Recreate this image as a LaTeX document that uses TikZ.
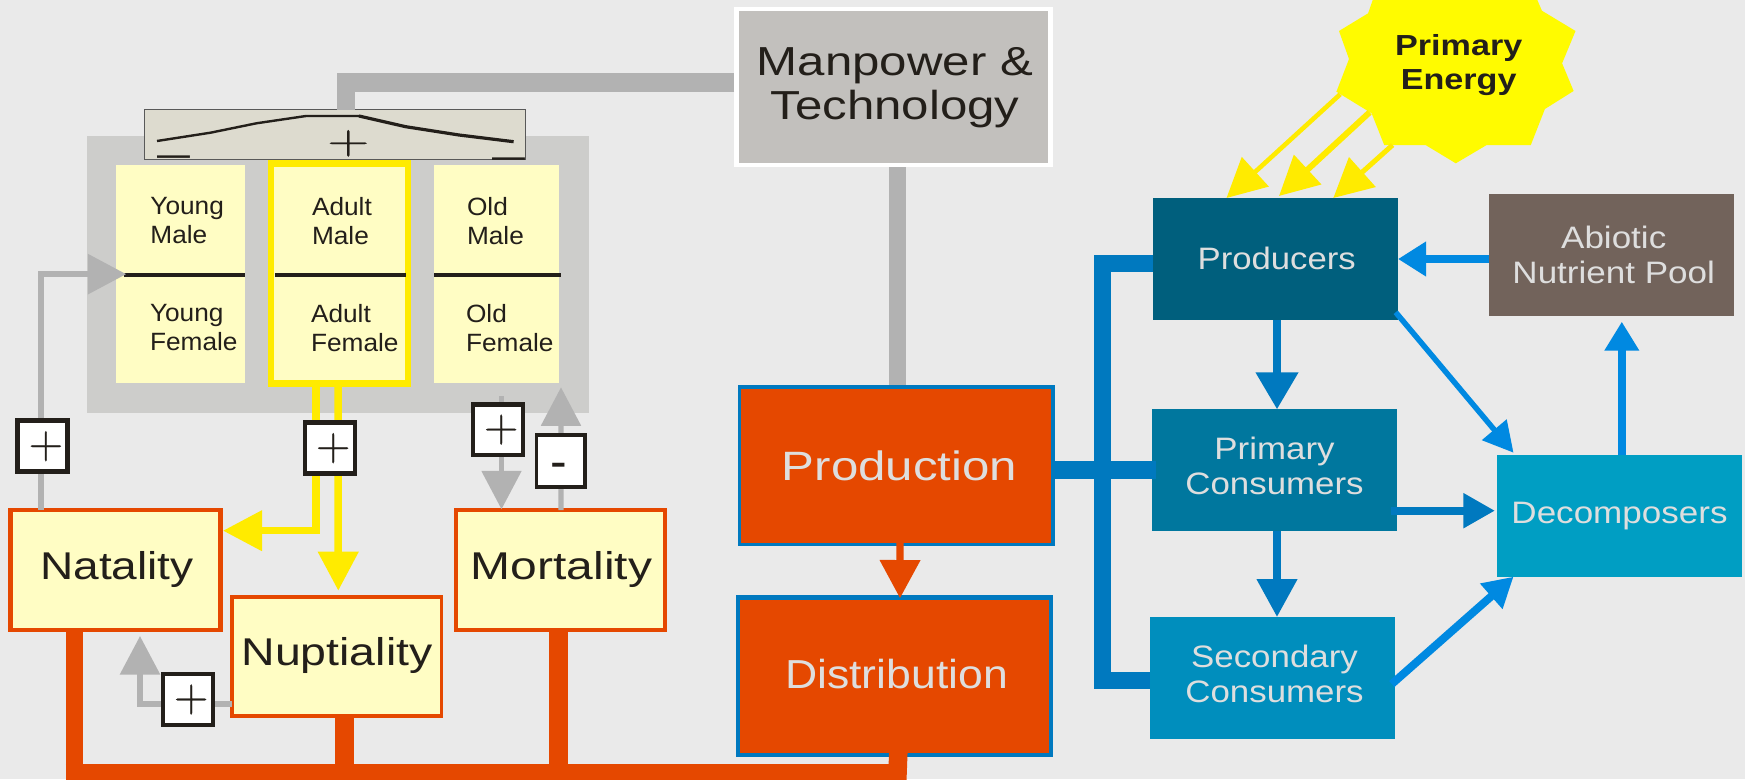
\documentclass[tikz,border=0pt]{standalone}
\usepackage{fontspec}
\usepackage{graphicx}
\usetikzlibrary{arrows.meta}
\newfontfamily\arial{Liberation Sans}
\newfontfamily\lmbold{Latin Modern Roman}[FakeBold=0.5]
\definecolor{bgc}{HTML}{EAEAEA}
\definecolor{ink}{HTML}{231F1A}
\definecolor{pale}{HTML}{DEDEDE}
\definecolor{cellc}{HTML}{FFFDC4}
\definecolor{panelc}{HTML}{CDCDCB}
\definecolor{legendc}{HTML}{DDDBCF}
\definecolor{greyc}{HTML}{B2B2B2}
\definecolor{manc}{HTML}{C2C0BD}
\definecolor{orangec}{HTML}{E54800}
\definecolor{yellowc}{HTML}{FFEB00}
\definecolor{sunc}{HTML}{FFFB00}
\definecolor{bluea}{HTML}{0079BF}
\definecolor{blueb}{HTML}{0089E1}
\newcommand{\rectnode}[7]{%
  \pgfmathsetmacro\rw{#5-#3}\pgfmathsetmacro\rh{#6-#4}%
  \node[#2,anchor=north west,inner sep=0pt,outer sep=0pt,minimum width=\rw pt,minimum height=\rh pt] (#1) at (#3,#4) {#7};}
\newcommand{\stk}[2]{\begin{tabular}[t]{@{}#1@{}}#2\end{tabular}}
\newcommand{\xs}[2]{\scalebox{#1}[1]{#2}}
\tikzset{
  cell/.style={fill=cellc},
  popbox/.style={fill=cellc,draw=orangec,line width=4.5pt},
  signbox/.style={fill=white,draw=ink,line width=4.5pt,font=\lmbold\fontsize{48}{48}\selectfont,text=ink},
  base/.style={inner sep=0pt,outer sep=0pt,anchor=base},
  basew/.style={inner sep=0pt,outer sep=0pt,anchor=base west},
  cohort/.style={basew,text=ink,font=\arial\fontsize{25}{29}\selectfont},
  poptext/.style={base,text=ink,font=\arial\fontsize{38.7}{50}\selectfont},
  bigtext/.style={base,text=pale},
  ecotext/.style={base,text=pale,font=\arial\fontsize{31}{35}\selectfont},
  greyline/.style={draw=greyc,line width=#1},
  greyarrow/.style={draw=greyc,line width=#1,-{Triangle[length=38.5pt,width=39pt]}},
  yellowarrow/.style={draw=yellowc,line width=#1,-{Triangle[length=39pt,width=39pt]}},
  orangebar/.style={draw=orangec,line width=#1},
  bluebar/.style={draw=bluea,line width=#1},
  divider/.style={draw=ink,line width=4pt},
}
\begin{document}
\begin{tikzpicture}[x=1pt,y=-1pt,line cap=butt,line join=miter]
\useasboundingbox (0,0) rectangle (1745,779);
\clip (0,0) rectangle (1745,779);
\fill[bgc] (0,0) rectangle (1745,779);
% cohort panel
\rectnode{panel}{fill=panelc}{86.5}{136}{588.6}{412.7}{}
\rectnode{young}{cell}{116}{165}{245}{383.3}{}
\rectnode{adult}{cell,draw=yellowc,line width=6.9pt}{271}{163.5}{408}{383.3}{}
\rectnode{old}{cell}{434}{165}{558.7}{383.3}{}
\draw[divider] ([shift={(8,110)}]young.north west) -- ([shift={(0,110)}]young.north east);
\draw[divider] ([shift={(3.9,111.5)}]adult.north west) -- ([shift={(-2.3,111.5)}]adult.north east);
\draw[divider] ([shift={(0,110)}]old.north west) -- ([shift={(2.3,110)}]old.north east);
\node[cohort] (ymt) at (150.4,214) {\xs{1.05}{\stk{l}{Young\\Male}}};
\node[cohort] (yft) at (150,321) {\xs{1.05}{\stk{l}{Young\\Female}}};
\node[cohort] (amt) at (312,215) {\xs{1.05}{\stk{l}{Adult\\Male}}};
\node[cohort] (aft) at (311,322.7) {\xs{1.05}{\stk{l}{Adult\\Female}}};
\node[cohort] (omt) at (467,215) {\xs{1.05}{\stk{l}{Old\\Male}}};
\node[cohort] (oft) at (466,322.7) {\xs{1.05}{\stk{l}{Old\\Female}}};
% population boxes
\rectnode{natality}{popbox}{10.7}{510}{220.3}{630}{}
\rectnode{nuptiality}{popbox,line width=3.9pt}{232}{597}{441.5}{716}{}
\rectnode{mortality}{popbox}{456}{510}{665}{630}{}
\node[poptext] (natt) at (117,579.5) {\xs{1.19}{Natality}};
\node[poptext] (nupt) at (337,665.5) {\xs{1.2}{Nuptiality}};
\node[poptext] (mort) at (561.5,579.5) {\xs{1.24}{Mortality}};
% legend box
\rectnode{manpower}{fill=manc,draw=white,line width=4.7pt}{736.5}{9}{1050.5}{165}{}
\rectnode{legend}{fill=legendc,draw=black!65,line width=1pt}{144.3}{109.7}{525.4}{159.7}{}
\draw[greyline=18.3pt] ([shift={(-2.4,73.5)}]manpower.north west) -| ([shift={(201.6,0)}]legend.north west);
\draw[ink,line width=2.4pt] (157,141) -- (210.5,132.7) -- (256.4,123.3) -- (306,116) -- (359,116);
\draw[ink,line width=3.2pt] (359,116) -- (405.7,126.7) -- (459,135) -- (513.6,141.7);
\node[inner sep=0pt,text=ink,font=\lmbold\fontsize{48}{48}\selectfont] (legplus) at (348.3,143.3) {\scalebox{1.22}[0.88]{+}};
\node[base,text=ink,font=\arial\fontsize{37}{37}\selectfont] (legminusa) at (173.5,166.5) {\xs{1.6}{–}};
\node[base,text=ink,font=\arial\fontsize{37}{37}\selectfont] (legminusb) at (508.5,168.5) {\xs{1.6}{–}};
\node[base,text=ink,font=\arial\fontsize{40.5}{44.3}\selectfont] (mant) at (895,75) {\xs{1.215}{\stk{c}{Manpower \&\\Technology}}};
% grey feedback lines
\draw[greyarrow=6.3pt] ([shift={(30.3,0)}]natality.north west) |- ([xshift=10.3pt]young.west);
\draw[greyarrow=5.4pt] ([shift={(67.5,12.7)}]old.south west) -- ([shift={(45.5,-0.7)}]mortality.north west);
\draw[greyarrow=5.4pt] ([shift={(105,0)}]mortality.north west) -- ([shift={(2.3,4)}]old.south east);
\draw[greyarrow=5.6pt] ([shift={(0,107)}]nuptiality.north west) -| ([shift={(129.3,6)}]natality.south west);
% yellow lines
\draw[yellowarrow=7.2pt] ([shift={(45,3)}]adult.south west) |- ([shift={(2.7,20.7)}]natality.north east);
\draw[yellowarrow=7.5pt] ([shift={(67,3)}]adult.south west) -- ([shift={(106.3,-6.3)}]nuptiality.north west);
% sign boxes
\rectnode{signa}{signbox}{17.7}{420.7}{67.7}{471.7}{\hspace*{6.4pt}+}
\rectnode{signb}{signbox}{305}{422.7}{355}{473.7}{\hspace*{6.4pt}+}
\rectnode{signc}{signbox}{473}{404.3}{523}{455}{\hspace*{6.4pt}+}
\rectnode{signd}{signbox,line width=3.3pt}{536.3}{435}{585}{487}{}
\rectnode{signe}{signbox}{163}{674}{213}{725}{\hspace*{6.4pt}+}
\node[base,text=ink,font=\arial\fontsize{50}{50}\selectfont] (minus) at (558.8,478.5) {-};
% production and distribution
\rectnode{production}{fill=orangec,draw=bluea,line width=3.7pt}{739.5}{387}{1053}{544.5}{}
\rectnode{distribution}{fill=orangec,draw=bluea,line width=4.5pt}{738}{597.5}{1051}{755}{}
\node[bigtext,font=\arial\fontsize{41}{50}\selectfont] (prodt) at (899.5,480) {\xs{1.2}{Production}};
\node[bigtext,font=\arial\fontsize{40.5}{50}\selectfont] (distt) at (896.5,688) {\xs{1.1}{Distribution}};
\draw[greyline=17pt] ([shift={(161,2.4)}]manpower.south west) -- ([shift={(158,-1.9)}]production.north west);
\draw[draw=orangec,line width=7.3pt,-{Triangle[length=38.3pt,width=39pt]}] ([shift={(160.6,-11.8)}]production.south west) -- ([shift={(162,0.8)}]distribution.north west);
% orange bus
\coordinate (busW) at (65.8,774);
\coordinate (busE) at (898,774);
\coordinate (busR) at (897.2,782);
\draw[orangebar=20pt] (busW) -- (busE);
\draw[orangebar=17.2pt] ([shift={(63.8,0)}]natality.south west) |- (busW);
\draw[orangebar=19pt] ([shift={(112.5,-2)}]nuptiality.south west) |- (busW);
\draw[orangebar=19pt] ([shift={(102.5,0)}]mortality.south west) |- (busW);
\draw[orangebar=18.5pt] ([shift={(161.4,-31.7)}]distribution.south west) -- (busR);
% ecosystem
\rectnode{producers}{fill={rgb,255:red,0;green,95;blue,125}}{1153}{198}{1398}{320}{}
\rectnode{abiotic}{fill={rgb,255:red,114;green,99;blue,91}}{1489}{194}{1734}{316}{}
\rectnode{primary}{fill={rgb,255:red,0;green,119;blue,158}}{1151.9}{409}{1397.2}{531}{}
\rectnode{secondary}{fill={rgb,255:red,0;green,142;blue,189}}{1150}{617}{1395}{739}{}
\rectnode{decomposers}{fill={rgb,255:red,0;green,158;blue,195}}{1497}{455}{1742}{577}{}
\node[ecotext] (prt) at (1276.7,269.8) {\xs{1.12}{Producers}};
\node[ecotext] (abt) at (1613.7,248.5) {\xs{1.13}{\stk{c}{Abiotic\\Nutrient Pool}}};
\node[ecotext] (pct) at (1274.5,459.5) {\xs{1.125}{\stk{c}{Primary\\Consumers}}};
\node[ecotext] (sct) at (1274.5,667.5) {\xs{1.125}{\stk{c}{Secondary\\Consumers}}};
\node[ecotext] (dct) at (1619.5,523) {\xs{1.13}{Decomposers}};
% sun
\fill[sunc] (1372.7,0) -- (1368.1,13.3) -- (1339,31) -- (1349,59) -- (1336.4,91.7) -- (1371.6,113.3) -- (1384.2,145) -- (1425.5,145) -- (1455.8,163.3) -- (1486.7,145) -- (1530.8,145) -- (1544.9,109) -- (1573.6,91) -- (1562.1,63.3) -- (1575.5,31) -- (1541.9,10.7) -- (1537.3,0) -- cycle;
\node[base,text=ink,font=\arial\bfseries\fontsize{29}{34.3}\selectfont] (sun) at (1458.7,55) {\xs{1.177}{\stk{c}{Primary\\Energy}}};
\draw[yellowarrow=4.6pt] ([shift={(-118.5,39.3)}]sun.base) -- ([shift={(73.5,0)}]producers.north west);
\draw[yellowarrow=6pt] ([shift={(-89.1,57.3)}]sun.base) -- ([shift={(126,-2)}]producers.north west);
\draw[yellowarrow=5pt] ([shift={(-66.1,90)}]sun.base) -- ([shift={(180.3,0)}]producers.north west);
% blue network
\draw[bluebar=17pt] ([shift={(0,65.3)}]producers.north west) -- (1102.5,263.3) -- (1102.5,680) -- ([shift={(0,63)}]secondary.north west);
\draw[bluebar=18pt] (production.east |- primary.west) -- ([xshift=3.8pt]primary.west);
\draw[draw=bluea,line width=7.7pt,-{Triangle[length=37pt,width=41pt]}] ([shift={(124,0)}]producers.south west) -- ([shift={(125.1,0.3)}]primary.north west);
\draw[draw=bluea,line width=7.7pt,-{Triangle[length=38pt,width=39pt]}] ([shift={(125.1,0)}]primary.south west) -- ([shift={(127,0)}]secondary.north west);
\draw[draw=bluea,line width=8pt,-{Triangle[length=31.6pt,width=33pt]}] ([shift={(-6.2,-20.3)}]primary.south east) -- ([shift={(-2,55.7)}]decomposers.north west);
\draw[draw=blueb,line width=7.7pt,-{Triangle[length=28pt,width=33pt]}] (abiotic.west |- producers.east) -- (producers.east);
\draw[draw=blueb,line width=7.7pt,-{Triangle[length=29pt,width=33pt]}] ([shift={(124.8,0)}]decomposers.north west) -- ([shift={(132.8,5.7)}]abiotic.south west);
\draw[draw=blueb,line width=5.5pt,-{Triangle[length=30pt,width=31pt]}] ([shift={(-2.3,-7.7)}]producers.south east) -- ([shift={(16.5,-2.3)}]decomposers.north west);
\draw[draw=blueb,line width=8pt,-{Triangle[length=29.7pt,width=32pt]}] ([shift={(-3.2,-55)}]secondary.south east) -- ([shift={(16.5,-0.3)}]decomposers.south west);
\end{tikzpicture}
\end{document}
